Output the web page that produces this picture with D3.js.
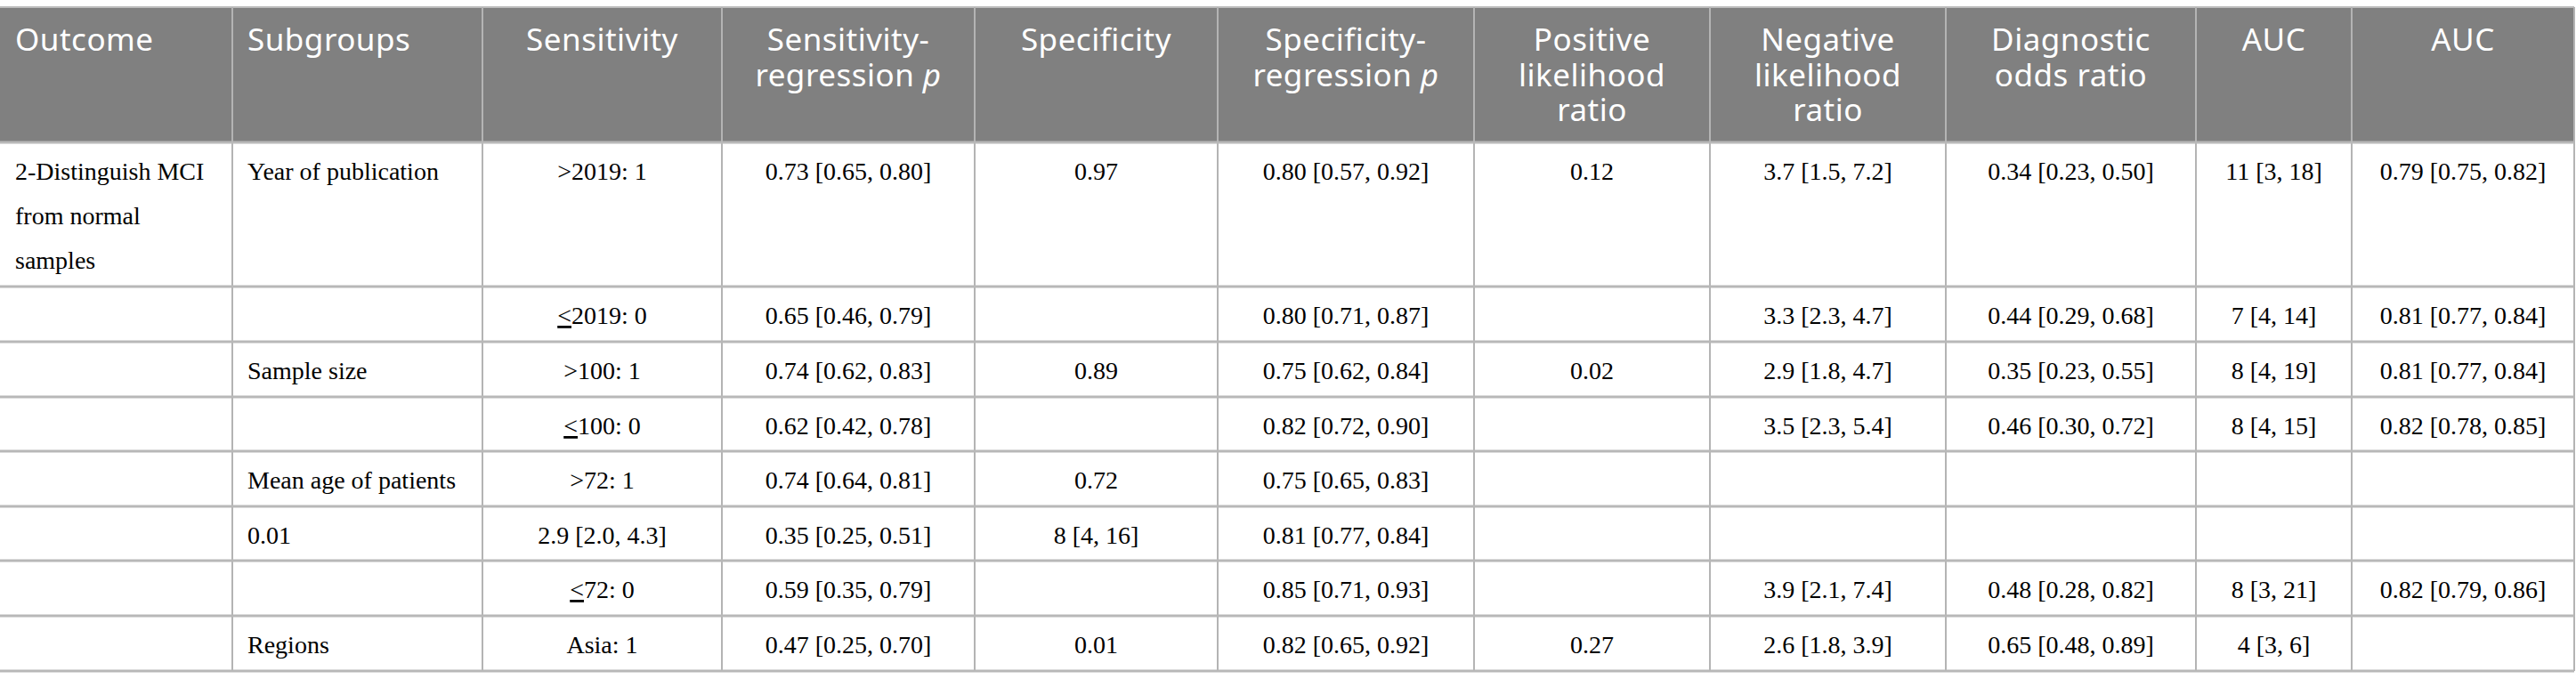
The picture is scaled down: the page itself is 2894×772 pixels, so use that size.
<!DOCTYPE html>
<meta charset="utf-8">
<head>
  <style>
    body { margin: 0; background: #fff; }
    .head text { font-family: "Noto Sans", sans-serif; font-size: 35px; letter-spacing: 0.5px; fill: #fff; }
    .cell text { font-family: "Liberation Serif", serif; font-size: 28px; fill: #000; }
  </style>
</head>
<body>
<script src="https://cdnjs.cloudflare.com/ajax/libs/d3/7.8.5/d3.min.js"></script>
<script>

// header lines per column ("*p" = italic p)
const headers = [
  ["Outcome"],
  ["Subgroups"],
  ["Sensitivity"],
  ["Sensitivity-", "regression *p"],
  ["Specificity"],
  ["Specificity-", "regression *p"],
  ["Positive", "likelihood", "ratio"],
  ["Negative", "likelihood", "ratio"],
  ["Diagnostic", "odds ratio"],
  ["AUC"],
  ["AUC"]
];

const outcomes = [["2-Distinguish MCI", "from normal", "samples"], [], [], [], [], [], [], []];
const subgroups = ["Year of publication", "", "Sample size", "", "Mean age of patients", "0.01", "", "Regions"];
const levels = [">2019: 1", "≤2019: 0", ">100: 1", "≤100: 0", ">72: 1", "2.9 [2.0, 4.3]", "≤72: 0", "Asia: 1"];
const sensitivity = ["0.73 [0.65, 0.80]", "0.65 [0.46, 0.79]", "0.74 [0.62, 0.83]", "0.62 [0.42, 0.78]", "0.74 [0.64, 0.81]", "0.35 [0.25, 0.51]", "0.59 [0.35, 0.79]", "0.47 [0.25, 0.70]"];
const sensRegP = ["0.97", "", "0.89", "", "0.72", "8 [4, 16]", "", "0.01"];
const specificity = ["0.80 [0.57, 0.92]", "0.80 [0.71, 0.87]", "0.75 [0.62, 0.84]", "0.82 [0.72, 0.90]", "0.75 [0.65, 0.83]", "0.81 [0.77, 0.84]", "0.85 [0.71, 0.93]", "0.82 [0.65, 0.92]"];
const specRegP = ["0.12", "", "0.02", "", "", "", "", "0.27"];
const posLR = ["3.7 [1.5, 7.2]", "3.3 [2.3, 4.7]", "2.9 [1.8, 4.7]", "3.5 [2.3, 5.4]", "", "", "3.9 [2.1, 7.4]", "2.6 [1.8, 3.9]"];
const negLR = ["0.34 [0.23, 0.50]", "0.44 [0.29, 0.68]", "0.35 [0.23, 0.55]", "0.46 [0.30, 0.72]", "", "", "0.48 [0.28, 0.82]", "0.65 [0.48, 0.89]"];
const dor = ["11 [3, 18]", "7 [4, 14]", "8 [4, 19]", "8 [4, 15]", "", "", "8 [3, 21]", "4 [3, 6]"];
const auc = ["0.79 [0.75, 0.82]", "0.81 [0.77, 0.84]", "0.81 [0.77, 0.84]", "0.82 [0.78, 0.85]", "", "", "0.82 [0.79, 0.86]", ""];

// layout
const colWidths = [261, 281, 269, 284, 273, 288, 265, 265, 281, 175, 250];
const rowHeights = [162, 62, 62, 61, 62, 61, 62, 62];
const tableTop = 8, headH = 152, pad = 17, lineH = 50, headLineH = 39.5;

const W = 2894, H = 772;
const colX = [0, ...d3.cumsum(colWidths)];
const rowY = [tableTop + headH, ...d3.cumsum(rowHeights).map(v => v + tableTop + headH)];

const columns = [outcomes, subgroups, levels, sensitivity, sensRegP, specificity, specRegP, posLR, negLR, dor, auc];
const rows = d3.range(rowHeights.length).map(i => columns.map(c => c[i]));

const svg = d3.select("body").append("svg")
  .attr("width", W)
  .attr("height", H);

// header background
svg.append("rect")
  .attr("x", 0).attr("y", tableTop)
  .attr("width", colX[colX.length - 1]).attr("height", headH)
  .attr("fill", "#808080");

svg.append("line")
  .attr("x1", 0).attr("x2", colX[colX.length - 1])
  .attr("y1", tableTop).attr("y2", tableTop)
  .attr("stroke", "#bdbdbd").attr("stroke-width", 2);

// vertical rules
svg.append("g")
  .selectAll("line")
  .data(colX.slice(1))
  .join("line")
    .attr("x1", d => d).attr("x2", d => d)
    .attr("y1", tableTop).attr("y2", rowY[rowY.length - 1])
    .attr("stroke", "#b4b4b4").attr("stroke-width", 2);

// horizontal rules
svg.append("g")
  .selectAll("line")
  .data(rowY)
  .join("line")
    .attr("x1", 0).attr("x2", colX[colX.length - 1])
    .attr("y1", d => d).attr("y2", d => d)
    .attr("stroke", "#b8b8b8").attr("stroke-width", 3);

function anchorX(ci) {
  return ci < 2 ? colX[ci] + pad : (colX[ci] + colX[ci + 1]) / 2;
}

// header text
const head = svg.append("g").attr("class", "head");
headers.forEach((lines, ci) => {
  lines.forEach((ln, li) => {
    const parts = ln.split("*");
    const t = head.append("text")
      .attr("x", anchorX(ci))
      .attr("y", tableTop + 49 + li * headLineH)
      .attr("text-anchor", ci < 2 ? "start" : "middle");
    t.append("tspan").text(parts[0]);
    if (parts[1]) t.append("tspan").attr("font-style", "italic").text(parts[1]);
  });
});

// body cells
const body = svg.append("g").attr("class", "cell");
rows.forEach((row, ri) => {
  row.forEach((val, ci) => {
    const lines = Array.isArray(val) ? val : [val];
    lines.forEach((ln, li) => {
      if (!ln) return;
      const t = body.append("text")
        .attr("x", anchorX(ci))
        .attr("y", rowY[ri] + 42 + li * lineH)
        .attr("text-anchor", ci < 2 ? "start" : "middle");
      if (ln.startsWith("≤")) {
        t.append("tspan").attr("text-decoration", "underline").text("<");
        t.append("tspan").text(ln.slice(1));
      } else {
        t.text(ln);
      }
    });
  });
});

</script>
</body>
